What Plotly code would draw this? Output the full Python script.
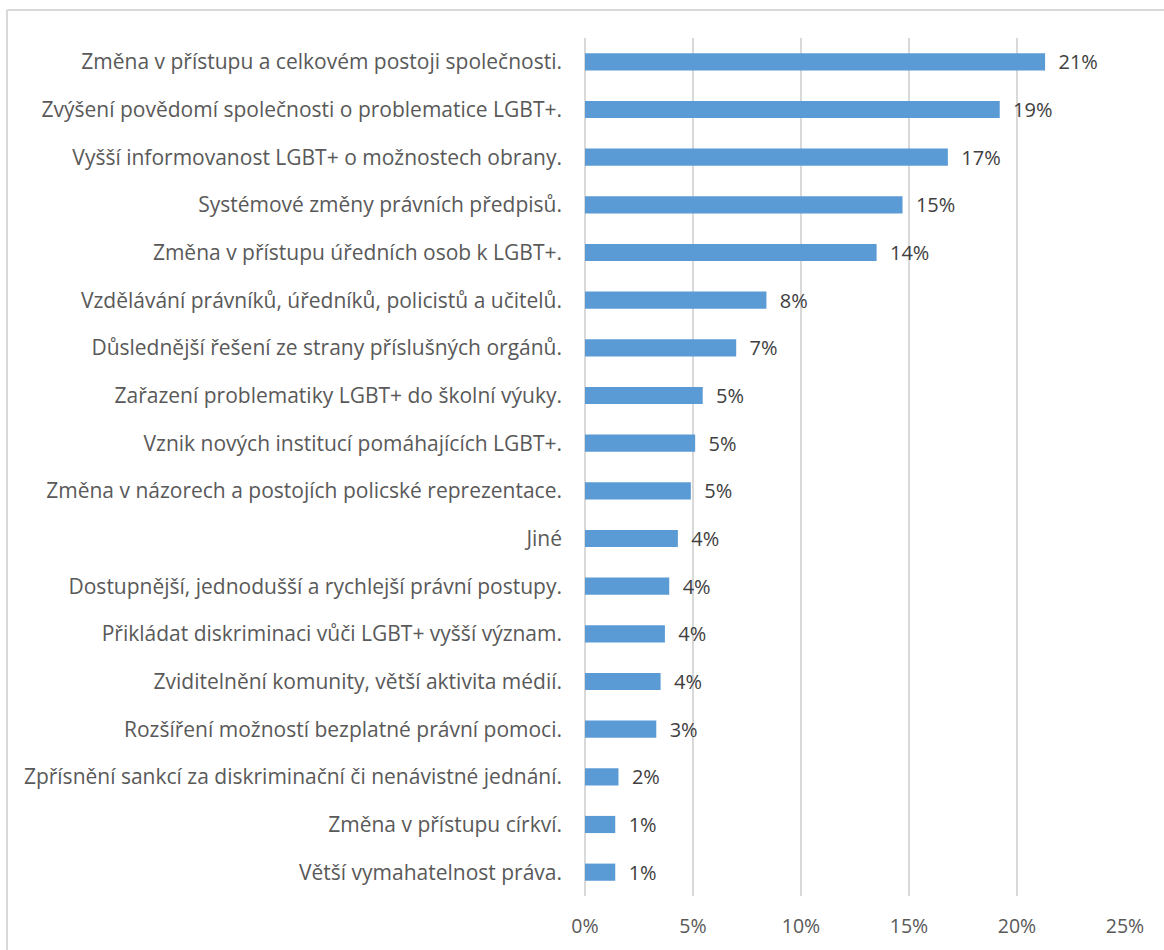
import plotly.graph_objects as go

categories = [
    "Změna v přístupu a celkovém postoji společnosti.",
    "Zvýšení povědomí společnosti o problematice LGBT+.",
    "Vyšší informovanost LGBT+ o možnostech obrany.",
    "Systémové změny právních předpisů.",
    "Změna v přístupu úředních osob k LGBT+.",
    "Vzdělávání právníků, úředníků, policistů a učitelů.",
    "Důslednější řešení ze strany příslušných orgánů.",
    "Zařazení problematiky LGBT+ do školní výuky.",
    "Vznik nových institucí pomáhajících LGBT+.",
    "Změna v názorech a postojích policské reprezentace.",
    "Jiné",
    "Dostupnější, jednodušší a rychlejší právní postupy.",
    "Přikládat diskriminaci vůči LGBT+ vyšší význam.",
    "Zviditelnění komunity, větší aktivita médií.",
    "Rozšíření možností bezplatné právní pomoci.",
    "Zpřísnění sankcí za diskriminační či nenávistné jednání.",
    "Změna v přístupu církví.",
    "Větší vymahatelnost práva.",
]
values = [21.3, 19.2, 16.8, 14.7, 13.5, 8.4, 7.0, 5.45, 5.1, 4.9, 4.3, 3.9, 3.7, 3.5, 3.3, 1.55, 1.4, 1.4]
value_labels = ["21%", "19%", "17%", "15%", "14%", "8%", "7%", "5%", "5%", "5%", "4%", "4%", "4%", "4%", "3%", "2%", "1%", "1%"]
tick_vals = [0, 5, 10, 15, 20, 25]
tick_text = ["0%", "5%", "10%", "15%", "20%", "25%"]

FONT = "Open Sans"
TXT = "#595959"

fig = go.Figure(go.Bar(
    y=categories, x=values, orientation="h",
    marker=dict(color="#5B9BD5", line=dict(width=0)),
    width=0.36,
    text=["  " + t for t in value_labels], textposition="outside",
    constraintext="none",
    textfont=dict(family=FONT, size=20, color="#404040"),
    cliponaxis=False,
))

fig.update_layout(
    width=1164, height=950,
    paper_bgcolor="white", plot_bgcolor="white",
    margin=dict(l=585, r=39, t=38, b=54),
    showlegend=False,
    font=dict(family=FONT, size=19, color=TXT),
    xaxis=dict(range=[0, 25], tickvals=tick_vals, ticktext=tick_text,
               showgrid=True, gridcolor="#D9D9D9", gridwidth=2,
               zeroline=False, showline=False, ticks="",
               tickfont=dict(family=FONT, size=19.5, color=TXT), ticklabelstandoff=16),
    yaxis=dict(autorange="reversed", showgrid=False, zeroline=False,
               showline=False, ticks="", ticklabelstandoff=22,
               tickfont=dict(family=FONT, size=21, color=TXT)),
    shapes=[
        dict(type="line", xref="paper", yref="paper", x0=0, x1=0, y0=0, y1=1,
             line=dict(color="#D9D9D9", width=2), layer="below"),
        dict(type="line", xref="paper", yref="paper",
             x0=(7 - 585) / 540, x1=(1164 - 585) / 540,
             y0=(950 - 54 - 10) / 858, y1=(950 - 54 - 10) / 858,
             line=dict(color="#D9D9D9", width=2)),
        dict(type="line", xref="paper", yref="paper",
             x0=(7 - 585) / 540, x1=(7 - 585) / 540,
             y0=(950 - 54 - 10) / 858, y1=(950 - 54 - 950) / 858,
             line=dict(color="#D9D9D9", width=2)),
    ],
)

fig.write_html("out.html", config={"displayModeBar": False},
               post_script="document.body.style.margin='0';")
